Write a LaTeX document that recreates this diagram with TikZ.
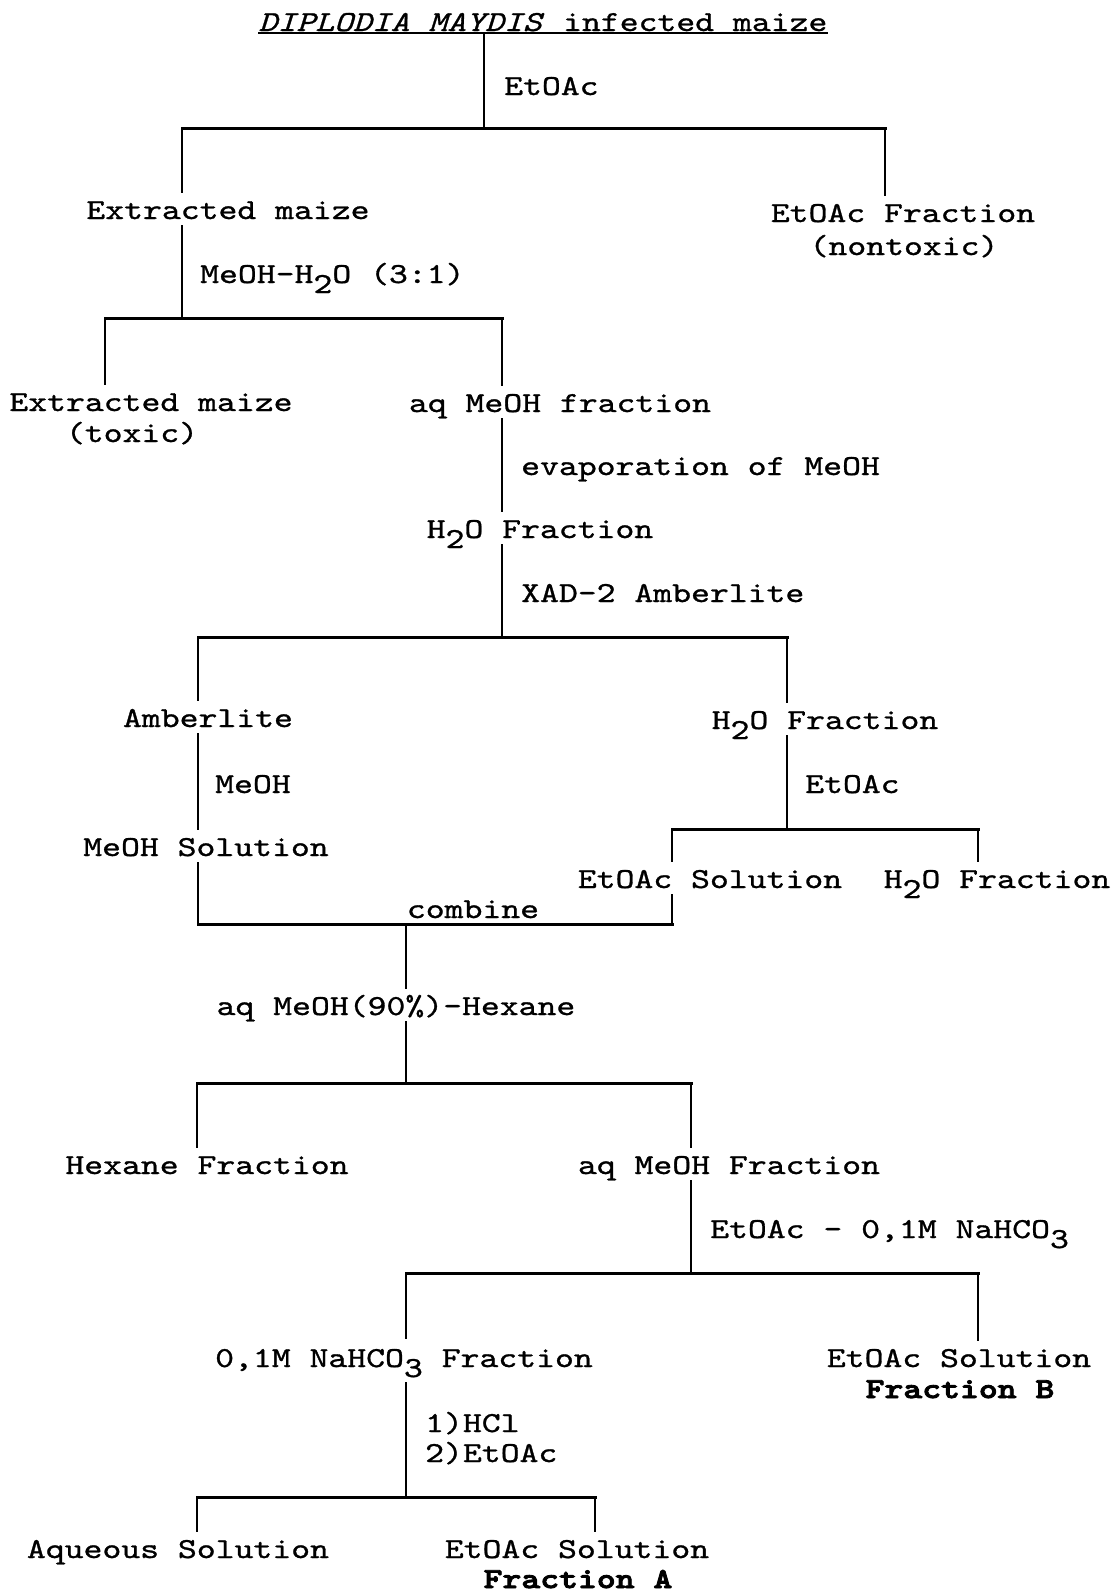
\documentclass[tikz,border=0pt]{standalone}
\usepackage{fontspec}
\newfontfamily\tw{lmmono10-regular.otf}[FakeStretch=1.24, ItalicFont=lmmono10-italic.otf, BoldFont=lmmonolt10-bold.otf, UprightFeatures={FakeBold=1}, ItalicFeatures={FakeBold=1}, BoldFeatures={FakeBold=3}]
\newcommand{\sbs}[1]{\raisebox{-10pt}{#1}}
\begin{document}
\begin{tikzpicture}[x=1pt,y=-1pt,
  every node/.style={font=\tw\fontsize{29}{32}\selectfont, inner sep=0pt},
  txt/.style={anchor=base, text height=26pt, text depth=6pt},
  lbl/.style={anchor=base west},
  vl/.style={line width=1.8pt},
  bar/.style={line width=3pt, line cap=rect}]
\useasboundingbox (0,0) rectangle (1111,1593);
% junction coordinates
\coordinate (b1l) at (182,128); \coordinate (b1c) at (484,128); \coordinate (b1r) at (885,128);
\coordinate (b2l) at (105,318); \coordinate (b2c) at (182,318); \coordinate (b2r) at (502,318);
\coordinate (b3l) at (198,637); \coordinate (b3c) at (502,637); \coordinate (b3r) at (787,637);
\coordinate (b4l) at (672,829); \coordinate (b4c) at (787,829); \coordinate (b4r) at (978,829);
\coordinate (cbl) at (198,924); \coordinate (cbc) at (406,924); \coordinate (cbr) at (672,924);
\coordinate (b5l) at (197,1083); \coordinate (b5c) at (406,1083); \coordinate (b5r) at (691,1083);
\coordinate (b6l) at (406,1273); \coordinate (b6c) at (691,1273); \coordinate (b6r) at (978,1273);
\coordinate (b7l) at (197,1497); \coordinate (b7c) at (406,1497); \coordinate (b7r) at (595,1497);
% nodes
\node[anchor=base, text depth=2pt] (t) at (543,31) {\textit{DIPLODIA MAYDIS} infected maize};
\node[lbl] (l1) at (504,95) {EtOAc};
\node[txt] (em1) at (228,219) {Extracted maize};
\node[txt] (etf) at (903,222) {EtOAc Fraction};
\node[txt] (etf2) at (904,255) {(nontoxic)};
\node[lbl] (l2) at (200,283) {MeOH-H\sbs{2}O (3:1)};
\node[txt] (em2) at (151,411) {Extracted maize};
\node[txt] (em2b) at (132,442) {(toxic)};
\node[txt] (aqm) at (560,412) {aq MeOH fraction};
\node[lbl] (l3) at (521,475) {evaporation of MeOH};
\node[txt] (h2o1) at (540,538) {H\sbs{2}O Fraction};
\node[lbl] (l4) at (521,602) {XAD-2 Amberlite};
\node[txt] (amb) at (208,727) {Amberlite};
\node[txt] (h2o2) at (825,729) {H\sbs{2}O Fraction};
\node[lbl] (l5) at (215,793) {MeOH};
\node[lbl] (l6) at (805,793) {EtOAc};
\node[txt] (meos) at (206,856) {MeOH Solution};
\node[txt] (eas1) at (710,888) {EtOAc Solution};
\node[txt] (h2o3) at (997,888) {H\sbs{2}O Fraction};
\node[anchor=base] (comb) at (473,918) {combine};
\node[txt] (hexl) at (396,1015) {aq MeOH(90\%)-Hexane};
\node[txt] (hexf) at (207,1174) {Hexane Fraction};
\node[txt] (aqmf) at (729,1174) {aq MeOH Fraction};
\node[lbl] (l7) at (710,1238) {EtOAc - 0,1M NaHCO\sbs{3}};
\node[anchor=base west, text height=28pt, text depth=15pt] (nah) at (215,1367) {0,1M NaHCO\sbs{3} Fraction};
\node[txt] (eas2) at (959,1367) {EtOAc Solution};
\node[txt] (fb) at (960,1398) {\bfseries Fraction B};
\node[lbl] (l8) at (425,1432) {1)HCl};
\node[lbl] (l9) at (425,1462) {2)EtOAc};
\node[txt] (aq) at (178,1558) {Aqueous Solution};
\node[txt] (eas3) at (577,1558) {EtOAc Solution};
\node[txt] (fa) at (578,1588) {\bfseries Fraction A};
% underline of title
\draw[line width=1.8pt] (t.south west) -- (t.south east);
% connectors
\draw[vl] (b1c |- t.south) -- (b1c);
\draw[bar] (b1l) -- (b1r);
\draw[vl] (b1l) -- (b1l |- em1.north);
\draw[vl] (b1r) -- (b1r |- etf.north);
\draw[vl] (b1l |- em1.south) -- (b2c);
\draw[bar] (b2l) -- (b2r);
\draw[vl] (b2l) -- (b2l |- em2.north);
\draw[vl] (b2r) -- (b2r |- aqm.north);
\draw[vl] (b2r |- aqm.south) -- (b2r |- h2o1.north);
\draw[vl] (b3c |- h2o1.south) -- (b3c);
\draw[bar] (b3l) -- (b3r);
\draw[vl] (b3l) -- (b3l |- amb.north);
\draw[vl] (b3r) -- (b3r |- h2o2.north);
\draw[vl] (b3l |- amb.south) -- (b3l |- meos.north);
\draw[vl] (b3l |- meos.south) -- (cbl);
\draw[bar] (cbl) -- (cbr);
\draw[vl] (cbr) -- (cbr |- eas1.south);
\draw[vl] (b3r |- h2o2.south) -- (b4c);
\draw[bar] (b4l) -- (b4r);
\draw[vl] (b4l) -- (b4l |- eas1.north);
\draw[vl] (b4r) -- (b4r |- h2o3.north);
\draw[vl] (cbc) -- (cbc |- hexl.north);
\draw[vl] (cbc |- hexl.south) -- (b5c);
\draw[bar] (b5l) -- (b5r);
\draw[vl] (b5l) -- (b5l |- hexf.north);
\draw[vl] (b5r) -- (b5r |- aqmf.north);
\draw[vl] (b5r |- aqmf.south) -- (b6c);
\draw[bar] (b6l) -- (b6r);
\draw[vl] (b6l) -- (b6l |- nah.north);
\draw[vl] (b6r) -- (b6r |- eas2.north);
\draw[vl] (b6l |- nah.south) -- (b7c);
\draw[bar] (b7l) -- (b7r);
\draw[vl] (b7l) -- (b7l |- aq.north);
\draw[vl] (b7r) -- (b7r |- eas3.north);
\end{tikzpicture}
\end{document}
